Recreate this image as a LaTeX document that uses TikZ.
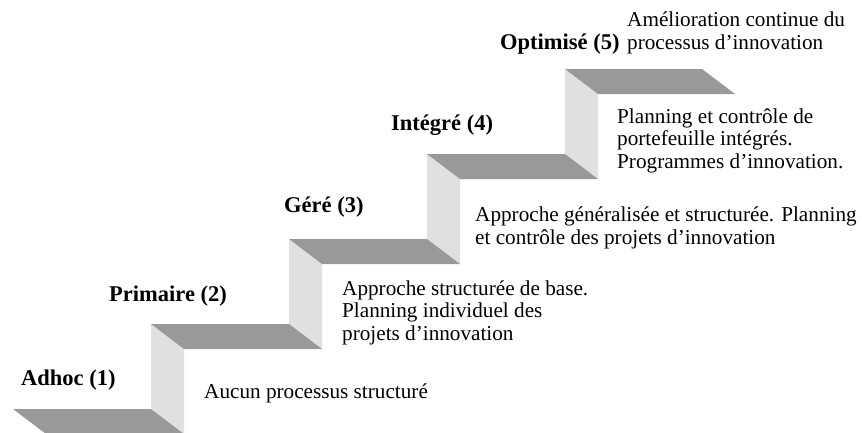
\documentclass[tikz,border=0pt]{standalone}
\usepackage{fontspec}
\setmainfont{Liberation Serif}

\begin{document}
\begin{tikzpicture}[x=1pt,y=-1pt,
    tread/.style={fill=black!40},
    riser/.style={fill=black!12},
    level node/.style={anchor=base west,inner sep=0pt,font=\fontsize{22.5}{24}\selectfont\bfseries},
    desc node/.style={anchor=base west,inner sep=0pt,align=left,font=\fontsize{21.2}{22.3}\selectfont}]

\useasboundingbox (0,0) rectangle (862,432);

% risers
\fill[riser] (151,324) -- ++(33,25) -- ++(0,85) -- ++(-33,-25) -- cycle;
\fill[riser] (289,239) -- ++(33,25) -- ++(0,85) -- ++(-33,-25) -- cycle;
\fill[riser] (427,154) -- ++(33,25) -- ++(0,85) -- ++(-33,-25) -- cycle;
\fill[riser] (565,69) -- ++(33,25) -- ++(0,85) -- ++(-33,-25) -- cycle;

% treads
\fill[tread] (13,409) -- ++(138,0) -- ++(33,25) -- ++(-138,0) -- cycle;
\fill[tread] (151,324) -- ++(138,0) -- ++(33,25) -- ++(-138,0) -- cycle;
\fill[tread] (289,239) -- ++(138,0) -- ++(33,25) -- ++(-138,0) -- cycle;
\fill[tread] (427,154) -- ++(138,0) -- ++(33,25) -- ++(-138,0) -- cycle;
\fill[tread] (565,69) -- ++(137,0) -- ++(33,25) -- ++(-137,0) -- cycle;

% levels
\node[level node] (adhoc) at (21,385) {Adhoc (1)};
\node[level node] (primaire) at (109,301) {Primaire (2)};
\node[level node] (gere) at (284,212) {Géré (3)};
\node[level node] (integre) at (391,130) {Intégré (4)};
\node[level node] (optimise) at (500,49) {Optimisé (5)};

% descriptions (base = last line)
\node[desc node] (d1) at (204,398) {Aucun processus structuré};
\node[desc node] (d2) at (342,340) {Approche structurée de base.\\Planning individuel des\\projets d’innovation};
\node[desc node] (d3) at (475,244) {Approche généralisée et structurée. Planning\\et contrôle des projets d’innovation};
\node[desc node] (d4) at (617,168) {Planning et contrôle de\\portefeuille intégrés.\\Programmes d’innovation.};
\node[desc node] (d5) at (627,49) {Amélioration continue du\\processus d’innovation};
\end{tikzpicture}
\end{document}
